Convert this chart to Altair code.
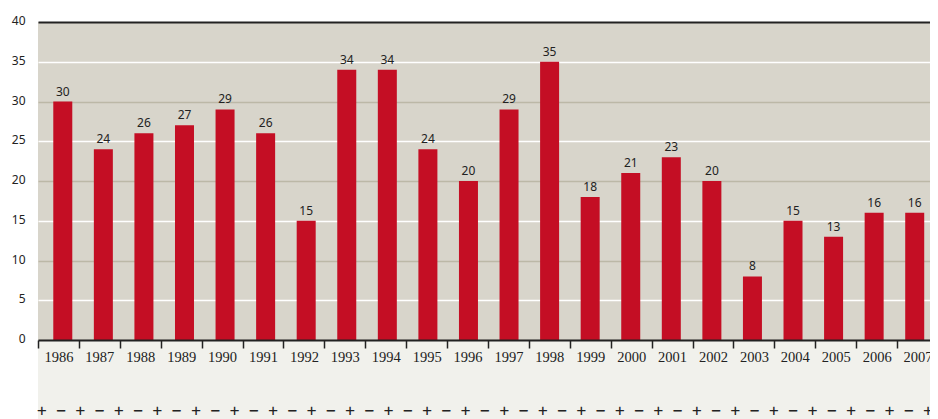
import altair as alt
import pandas as pd

years = [str(y) for y in range(1986, 2008)]
values = [30, 24, 26, 27, 29, 26, 15, 34, 34, 24, 20, 29, 35, 18, 21, 23, 20, 8, 15, 13, 16, 16]
y_ticks = [0, 5, 10, 15, 20, 25, 30, 35, 40]
pattern = "+ \u2212 " * 25

df = pd.DataFrame({"year": years, "value": values})
W, H = 892, 318

y_enc = alt.Y(
    "value:Q", title=None,
    scale=alt.Scale(domain=[0, 40], nice=False),
    axis=alt.Axis(
        values=y_ticks, grid=True, domain=False, ticks=False,
        gridColor={"expr": "datum.value == 40 ? '#222222' : (datum.value % 10 == 0 ? '#bcb8a7' : '#ffffff')"},
        gridWidth={"expr": "datum.value == 40 ? 2 : 1.5"},
        labelPadding=13, labelFont="Noto Sans", labelFontSize=12, labelColor="#222",
        labelOffset=-1.5, labelOverlap=False,
    ),
)

# axis scale (category bands with ticks at their edges)
x_axis_enc = alt.X(
    "year:N", sort=None, title=None,
    scale=alt.Scale(paddingInner=0, paddingOuter=0, range=[0, 900]),
    axis=alt.Axis(
        labelAngle=0, tickBand="extent", ticks=True, tickSize=8, tickWidth=1.5,
        tickColor="#222", domainColor="#222", domainWidth=2, zindex=2,
        labelFont="Liberation Serif", labelFontSize=14.5, labelColor="#222",
        labelPadding=2,
    ),
)
# bar scale
x_bar_enc = alt.X(
    "year:N", sort=None, title=None,
    scale=alt.Scale(paddingInner=0, paddingOuter=0, range=[4.5, 897]),
    axis=None,
)

lower = alt.Chart(alt.Data(values=[{"a": 1}])).mark_rect(color="#f1f1ec").encode(
    x=alt.value(0), x2=alt.value(W + 20), y=alt.value(H + 1), y2=alt.value(H + 90)
)

axis_layer = alt.Chart(df).mark_point(opacity=0).encode(x=x_axis_enc, y=y_enc)

bars = alt.Chart(df).mark_bar(color="#c40e24", size=19).encode(x=x_bar_enc, y=y_enc)

labels = alt.Chart(df).mark_text(
    baseline="alphabetic", dy=-6, font="Noto Sans", fontSize=12, color="#222"
).encode(x=x_bar_enc, y=y_enc, text="value:Q")

deco = alt.Chart(alt.Data(values=[{"t": pattern}])).mark_text(
    align="left", baseline="middle", font="DejaVu Sans Mono", fontSize=16, color="#222"
).encode(x=alt.value(-1), y=alt.value(H + 71), text="t:N")

chart = alt.layer(lower, axis_layer, bars, labels, deco).resolve_scale(
    x="independent"
).properties(
    width=W, height=H,
    background="white",
    autosize=alt.AutoSizeParams(type="none"),
    padding={"left": 30, "top": 14, "right": 0, "bottom": 79},
).configure_view(fill="#d8d5cb", stroke=None)

chart.save("out.html", embed_options={"renderer": "svg", "actions": False})
